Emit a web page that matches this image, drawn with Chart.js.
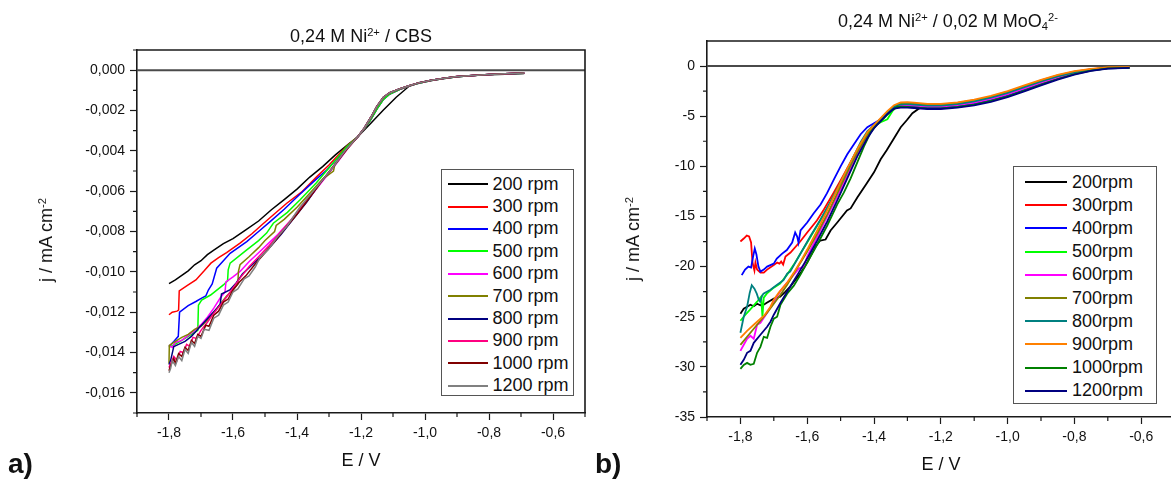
<!DOCTYPE html>
<html>
<head>
<meta charset="utf-8">
<script src="https://cdn.jsdelivr.net/npm/chart.js@4.4.1/dist/chart.umd.min.js"></script>
<style>
  html, body { margin: 0; padding: 0; background: #fff; overflow: hidden; width: 1171px; height: 479px; }
  body { position: relative; font-family: 'Liberation Sans', Arial, sans-serif; color: #111; }
  .panel { position: absolute; top: 0; height: 479px; }
  .txt { position: absolute; white-space: nowrap; font-size: 18px; line-height: 20px; }
  .txt sup, .txt sub { font-size: 0.62em; line-height: 0; position: relative; vertical-align: baseline; }
  .txt sup { top: -0.55em; }
  .txt sub { top: 0.3em; }
  .ctr { transform: translateX(-50%); }
  .rot { transform: translate(-50%, -50%) rotate(-90deg); }
  .tag { position: absolute; font-weight: bold; font-size: 28px; line-height: 30px; }
  .legend { position: absolute; box-sizing: border-box; border: 1.3px solid #555; background: #fff; }
  .legend .item { display: flex; align-items: center; font-size: 18px; }
  .legend .sw { display: inline-block; height: 2px; }
</style>
</head>
<body>

<div class="panel" id="panelA" style="left:0; width:595px;"><canvas id="chartA"></canvas></div>
<div class="panel" id="panelB" style="left:600px; width:585px;"><canvas id="chartB"></canvas></div>

<div class="txt ctr" style="left:361px; top:26px;">0,24 M Ni<sup>2+</sup> / CBS</div>
<div class="txt ctr" style="left:948px; top:11px;">0,24 M Ni<sup>2+</sup> / 0,02 M MoO<sub>4</sub><sup>2-</sup></div>
<div class="txt ctr" style="left:361px; top:450px;">E / V</div>
<div class="txt ctr" style="left:941px; top:454px;">E / V</div>
<div class="txt rot" style="left:46px; top:240px;">j / mA cm<sup>-2</sup></div>
<div class="txt rot" style="left:633px; top:239px;">j / mA cm<sup>-2</sup></div>
<div class="tag" style="left:8px; top:449px;">a)</div>
<div class="tag" style="left:595px; top:449px;">b)</div>

<div class="legend" id="legendA" style="left:441px; top:169px; width:133px; height:227px; padding-top:3px;"></div>
<div class="legend" id="legendB" style="left:1013px; top:166px; width:144px; height:238px; padding-top:3.5px;"></div>

<script>
// ---------- ticks ----------
const xMajor = [-1.8, -1.6, -1.4, -1.2, -1.0, -0.8, -0.6];
const xMinor = [-1.9, -1.7, -1.5, -1.3, -1.1, -0.9, -0.7, -0.5];
const aYMajor = [0, -0.002, -0.004, -0.006, -0.008, -0.010, -0.012, -0.014, -0.016];
const aYMinor = [0.001, -0.001, -0.003, -0.005, -0.007, -0.009, -0.011, -0.013, -0.015, -0.017];
const bYMajor = [0, -5, -10, -15, -20, -25, -30, -35];
const bYMinor = [-2.5, -7.5, -12.5, -17.5, -22.5, -27.5, -32.5];

// ---------- panel a: 0,24 M Ni2+ / CBS  [E / V, j] ----------
const aLabels = ['200 rpm', '300 rpm', '400 rpm', '500 rpm', '600 rpm', '700 rpm', '800 rpm', '900 rpm', '1000 rpm', '1200 rpm'];
const aColors = ['#000000', '#ff0000', '#0000ff', '#00ff00', '#ff00ff', '#808000', '#000080', '#ff0080', '#800000', '#808080'];

const a200 = [[-1.80,-0.01058],[-1.78,-0.01040],[-1.76,-0.01018],[-1.74,-0.00995],[-1.72,-0.00965],[-1.70,-0.00945],[-1.68,-0.00915],[-1.66,-0.00892],[-1.63,-0.00860],[-1.60,-0.00835],[-1.56,-0.00792],[-1.52,-0.00748],[-1.48,-0.00692],[-1.44,-0.00642],[-1.40,-0.00590],[-1.36,-0.00530],[-1.32,-0.00478],[-1.28,-0.00420],[-1.24,-0.00368],[-1.21,-0.00330],[-1.17,-0.00264],[-1.13,-0.00198],[-1.09,-0.00134],[-1.05,-0.00080],[-1.02,-0.00062],[-0.98,-0.00050],[-0.94,-0.00040],[-0.90,-0.00033],[-0.85,-0.00027],[-0.80,-0.00023],[-0.75,-0.00020],[-0.69,-0.00017]];
const aTailFast = [[-1.19,-0.00292],[-1.17,-0.00246],[-1.15,-0.00192],[-1.13,-0.00145],[-1.11,-0.00118],[-1.08,-0.00096],[-1.05,-0.00079],[-1.02,-0.00065],[-0.98,-0.00051],[-0.94,-0.00041],[-0.90,-0.00033],[-0.85,-0.00026],[-0.80,-0.00021],[-0.75,-0.00018],[-0.69,-0.00015]];
const aTailSlow = [[-1.19,-0.00288],[-1.17,-0.00236],[-1.15,-0.00178],[-1.13,-0.00134],[-1.11,-0.00112],[-1.08,-0.00093],[-1.05,-0.00077],[-1.02,-0.00063],[-0.98,-0.00050],[-0.94,-0.00040],[-0.90,-0.00032],[-0.85,-0.00026],[-0.80,-0.00021],[-0.75,-0.00018],[-0.69,-0.00014]];
const a300 = [[-1.80,-0.01213],[-1.79,-0.01200],[-1.775,-0.01195],[-1.770,-0.01190],[-1.768,-0.01094],[-1.74,-0.01065],[-1.716,-0.01040],[-1.69,-0.00995],[-1.669,-0.00957],[-1.645,-0.00930],[-1.62,-0.00905],[-1.578,-0.00858],[-1.54,-0.00810],[-1.505,-0.00760],[-1.47,-0.00712],[-1.432,-0.00660],[-1.386,-0.00605],[-1.338,-0.00528],[-1.30,-0.00470],[-1.276,-0.00429],[-1.24,-0.00370],[-1.21,-0.00330]];
const a400 = [[-1.80,-0.01370],[-1.785,-0.01345],[-1.771,-0.01320],[-1.767,-0.01200],[-1.74,-0.01168],[-1.716,-0.01147],[-1.698,-0.01130],[-1.685,-0.01120],[-1.677,-0.01090],[-1.665,-0.01060],[-1.651,-0.00982],[-1.63,-0.00945],[-1.609,-0.00908],[-1.557,-0.00850],[-1.52,-0.00800],[-1.484,-0.00751],[-1.44,-0.00690],[-1.391,-0.00615],[-1.35,-0.00555],[-1.307,-0.00495],[-1.255,-0.00404],[-1.21,-0.00330]];
const a500 = [[-1.80,-0.01375],[-1.77,-0.01350],[-1.74,-0.01320],[-1.71,-0.01290],[-1.708,-0.01165],[-1.698,-0.01140],[-1.67,-0.01115],[-1.63,-0.01065],[-1.617,-0.01045],[-1.615,-0.00990],[-1.609,-0.00957],[-1.557,-0.00891],[-1.52,-0.00845],[-1.495,-0.00808],[-1.474,-0.00759],[-1.43,-0.00705],[-1.391,-0.00644],[-1.34,-0.00560],[-1.297,-0.00479],[-1.245,-0.00380],[-1.21,-0.00330]];
const a600 = [[-1.80,-0.01365],[-1.79,-0.01375],[-1.78,-0.01350],[-1.76,-0.01340],[-1.74,-0.01315],[-1.72,-0.01290],[-1.70,-0.01262],[-1.68,-0.01225],[-1.66,-0.01180],[-1.64,-0.01130],[-1.625,-0.01100],[-1.622,-0.01050],[-1.60,-0.01025],[-1.578,-0.00998],[-1.55,-0.00950],[-1.52,-0.00905],[-1.49,-0.00860],[-1.46,-0.00815],[-1.42,-0.00745],[-1.39,-0.00690],[-1.35,-0.00610],[-1.31,-0.00530],[-1.27,-0.00450],[-1.24,-0.00385],[-1.21,-0.00330]];
const a700 = [[-1.80,-0.01455],[-1.799,-0.01365],[-1.78,-0.01345],[-1.76,-0.01325],[-1.74,-0.01310],[-1.72,-0.01285],[-1.70,-0.01270],[-1.68,-0.01240],[-1.66,-0.01200],[-1.64,-0.01160],[-1.62,-0.01120],[-1.60,-0.01090],[-1.585,-0.01060],[-1.583,-0.00998],[-1.578,-0.00965],[-1.55,-0.00925],[-1.52,-0.00880],[-1.50,-0.00845],[-1.47,-0.00800],[-1.465,-0.00770],[-1.44,-0.00740],[-1.40,-0.00680],[-1.36,-0.00610],[-1.32,-0.00540],[-1.286,-0.00500],[-1.282,-0.00470],[-1.25,-0.00400],[-1.21,-0.00330]];
const a800 = [[-1.80,-0.01460],[-1.795,-0.01440],[-1.785,-0.01370],[-1.77,-0.01360],[-1.75,-0.01345],[-1.73,-0.01320],[-1.71,-0.01285],[-1.69,-0.01250],[-1.67,-0.01215],[-1.65,-0.01180],[-1.64,-0.01160],[-1.636,-0.01110],[-1.61,-0.01090],[-1.59,-0.01055],[-1.57,-0.01010],[-1.54,-0.00965],[-1.51,-0.00920],[-1.48,-0.00870],[-1.45,-0.00815],[-1.41,-0.00735],[-1.37,-0.00655],[-1.33,-0.00565],[-1.29,-0.00485],[-1.25,-0.00400],[-1.21,-0.00330]];
const a900 = [[-1.80,-0.01475],[-1.795,-0.01455],[-1.785,-0.01420],[-1.775,-0.01440],[-1.765,-0.01395],[-1.755,-0.01400],[-1.745,-0.01360],[-1.735,-0.01370],[-1.725,-0.01325],[-1.715,-0.01330],[-1.70,-0.01290],[-1.68,-0.01250],[-1.66,-0.01205],[-1.64,-0.01165],[-1.62,-0.01125],[-1.60,-0.01080],[-1.58,-0.01035],[-1.55,-0.00975],[-1.52,-0.00925],[-1.49,-0.00875],[-1.46,-0.00820],[-1.42,-0.00745],[-1.38,-0.00665],[-1.34,-0.00585],[-1.30,-0.00505],[-1.26,-0.00420],[-1.21,-0.00330]];
const a1000 = [[-1.80,-0.01490],[-1.795,-0.01465],[-1.785,-0.01430],[-1.78,-0.01455],[-1.77,-0.01405],[-1.76,-0.01420],[-1.75,-0.01375],[-1.74,-0.01390],[-1.73,-0.01340],[-1.72,-0.01355],[-1.71,-0.01310],[-1.70,-0.01320],[-1.685,-0.01265],[-1.675,-0.01270],[-1.66,-0.01215],[-1.645,-0.01195],[-1.63,-0.01150],[-1.615,-0.01135],[-1.60,-0.01090],[-1.58,-0.01050],[-1.56,-0.01020],[-1.53,-0.00960],[-1.50,-0.00905],[-1.47,-0.00850],[-1.44,-0.00790],[-1.40,-0.00715],[-1.36,-0.00630],[-1.32,-0.00545],[-1.28,-0.00465],[-1.24,-0.00385],[-1.21,-0.00330]];
const a1200 = [[-1.80,-0.01500],[-1.795,-0.01480],[-1.79,-0.01440],[-1.78,-0.01465],[-1.77,-0.01420],[-1.76,-0.01440],[-1.75,-0.01385],[-1.74,-0.01405],[-1.73,-0.01350],[-1.72,-0.01370],[-1.71,-0.01320],[-1.70,-0.01330],[-1.69,-0.01285],[-1.675,-0.01290],[-1.66,-0.01230],[-1.645,-0.01215],[-1.63,-0.01165],[-1.615,-0.01150],[-1.60,-0.01100],[-1.585,-0.01085],[-1.565,-0.01035],[-1.55,-0.01020],[-1.53,-0.00975],[-1.516,-0.00930],[-1.49,-0.00890],[-1.463,-0.00830],[-1.43,-0.00770],[-1.391,-0.00680],[-1.35,-0.00600],[-1.328,-0.00560],[-1.287,-0.00480],[-1.25,-0.00400],[-1.21,-0.00330]];

// ---------- panel b: 0,24 M Ni2+ / 0,02 M MoO4 2-  [E / V, j / mA cm-2] ----------
const bLabels = ['200rpm', '300rpm', '400rpm', '500rpm', '600rpm', '700rpm', '800rpm', '900rpm', '1000rpm', '1200rpm'];
const bColors = ['#000000', '#ff0000', '#0000ff', '#00ff00', '#ff00ff', '#808000', '#008080', '#ff8000', '#008000', '#000080'];

const b200 = [[-1.80,-24.7],[-1.79,-24.2],[-1.78,-24.0],[-1.77,-23.8],[-1.76,-23.95],[-1.75,-23.7],[-1.74,-23.85],[-1.73,-23.8],[-1.721,-23.6],[-1.70,-23.2],[-1.681,-23.0],[-1.665,-22.5],[-1.651,-22.0],[-1.635,-21.3],[-1.621,-20.7],[-1.60,-19.6],[-1.591,-19.0],[-1.575,-18.0],[-1.561,-17.4],[-1.545,-17.3],[-1.53,-16.4],[-1.51,-15.6],[-1.481,-14.4],[-1.47,-14.2],[-1.45,-13.1],[-1.422,-11.7],[-1.40,-10.6],[-1.38,-9.3],[-1.362,-8.4],[-1.34,-7.2],[-1.32,-6.1],[-1.302,-5.4],[-1.285,-4.7],[-1.262,-4.15],[-1.24,-4.22],[-1.20,-4.20],[-1.15,-4.00],[-1.10,-3.66],[-1.05,-3.26],[-1.00,-2.76],[-0.95,-2.20],[-0.90,-1.62],[-0.85,-1.10],[-0.80,-0.67],[-0.75,-0.38],[-0.70,-0.20],[-0.635,-0.16]];
const b300 = [[-1.80,-17.5],[-1.79,-17.2],[-1.781,-16.9],[-1.774,-17.0],[-1.768,-17.6],[-1.764,-19.5],[-1.761,-20.0],[-1.758,-20.4],[-1.755,-19.6],[-1.75,-20.3],[-1.74,-20.6],[-1.73,-20.6],[-1.72,-20.3],[-1.70,-19.85],[-1.69,-19.6],[-1.683,-19.7],[-1.678,-19.5],[-1.672,-19.8],[-1.665,-19.0],[-1.65,-18.6],[-1.621,-17.5],[-1.60,-16.6],[-1.571,-15.4],[-1.55,-14.3],[-1.522,-12.7],[-1.50,-11.4],[-1.472,-9.7],[-1.45,-8.4],[-1.422,-7.07],[-1.40,-6.0],[-1.382,-5.4],[-1.36,-4.7],[-1.332,-3.9],[-1.31,-3.72],[-1.28,-3.75],[-1.24,-3.85],[-1.20,-3.84],[-1.15,-3.68],[-1.10,-3.41],[-1.05,-3.04],[-1.00,-2.56],[-0.95,-1.99],[-0.90,-1.43],[-0.85,-0.94],[-0.80,-0.55],[-0.75,-0.30],[-0.70,-0.16],[-0.635,-0.13]];
const b400 = [[-1.796,-20.85],[-1.786,-20.3],[-1.776,-20.0],[-1.768,-20.1],[-1.762,-19.0],[-1.757,-18.2],[-1.752,-18.8],[-1.746,-20.0],[-1.74,-20.5],[-1.73,-20.3],[-1.72,-20.0],[-1.70,-19.7],[-1.691,-19.2],[-1.675,-18.7],[-1.661,-18.35],[-1.645,-17.6],[-1.636,-16.6],[-1.630,-17.0],[-1.626,-17.6],[-1.62,-16.4],[-1.60,-15.6],[-1.581,-14.7],[-1.56,-13.8],[-1.541,-12.7],[-1.52,-11.3],[-1.50,-10.0],[-1.48,-8.8],[-1.46,-7.8],[-1.44,-6.8],[-1.42,-6.1],[-1.40,-5.7],[-1.38,-5.3],[-1.36,-4.7],[-1.34,-4.2],[-1.32,-4.0],[-1.28,-4.05],[-1.24,-4.15],[-1.20,-4.14],[-1.15,-4.00],[-1.10,-3.76],[-1.05,-3.40],[-1.00,-2.94],[-0.95,-2.37],[-0.90,-1.79],[-0.85,-1.23],[-0.80,-0.76],[-0.75,-0.43],[-0.70,-0.22],[-0.635,-0.17]];
const b500 = [[-1.80,-25.4],[-1.785,-24.8],[-1.771,-24.3],[-1.75,-23.5],[-1.738,-23.0],[-1.734,-25.0],[-1.73,-23.1],[-1.721,-22.7],[-1.70,-22.1],[-1.681,-21.7],[-1.66,-20.8],[-1.64,-19.8],[-1.62,-18.7],[-1.60,-17.6],[-1.57,-15.9],[-1.54,-14.2],[-1.51,-12.3],[-1.48,-10.4],[-1.45,-8.4],[-1.42,-6.8],[-1.40,-6.0],[-1.38,-5.6],[-1.36,-5.3],[-1.345,-4.5],[-1.33,-4.0],[-1.30,-3.88],[-1.28,-3.90],[-1.24,-4.00],[-1.20,-3.99],[-1.15,-3.85],[-1.10,-3.58],[-1.05,-3.21],[-1.00,-2.74],[-0.95,-2.17],[-0.90,-1.60],[-0.85,-1.08],[-0.80,-0.65],[-0.75,-0.37],[-0.70,-0.19],[-0.635,-0.16]];
const b600 = [[-1.80,-28.4],[-1.79,-27.8],[-1.78,-27.2],[-1.77,-26.9],[-1.76,-27.2],[-1.755,-26.5],[-1.75,-25.8],[-1.74,-25.6],[-1.72,-24.6],[-1.70,-23.5],[-1.68,-22.4],[-1.66,-21.6],[-1.64,-20.8],[-1.625,-20.2],[-1.61,-20.0],[-1.60,-19.0],[-1.57,-17.0],[-1.54,-15.0],[-1.51,-13.0],[-1.48,-10.9],[-1.45,-8.8],[-1.42,-7.0],[-1.40,-6.1],[-1.38,-5.4],[-1.36,-4.7],[-1.34,-4.1],[-1.32,-3.9],[-1.30,-3.92],[-1.28,-3.95],[-1.24,-4.05],[-1.20,-4.04],[-1.15,-3.90],[-1.10,-3.64],[-1.05,-3.27],[-1.00,-2.80],[-0.95,-2.23],[-0.90,-1.66],[-0.85,-1.13],[-0.80,-0.69],[-0.75,-0.39],[-0.70,-0.20],[-0.635,-0.16]];
const b700 = [[-1.80,-27.8],[-1.78,-27.0],[-1.76,-26.2],[-1.74,-25.4],[-1.72,-24.6],[-1.70,-23.7],[-1.68,-22.8],[-1.66,-21.8],[-1.64,-20.7],[-1.62,-19.6],[-1.60,-18.5],[-1.57,-16.7],[-1.54,-14.8],[-1.51,-12.7],[-1.48,-10.6],[-1.45,-8.6],[-1.42,-6.9],[-1.40,-6.0],[-1.38,-5.3],[-1.36,-4.6],[-1.34,-4.0],[-1.32,-3.78],[-1.30,-3.75],[-1.28,-3.78],[-1.24,-3.89],[-1.20,-3.88],[-1.15,-3.73],[-1.10,-3.46],[-1.05,-3.09],[-1.00,-2.61],[-0.95,-2.04],[-0.90,-1.48],[-0.85,-0.98],[-0.80,-0.58],[-0.75,-0.32],[-0.70,-0.17],[-0.635,-0.14]];
const b800 = [[-1.80,-26.6],[-1.79,-25.0],[-1.78,-24.0],[-1.772,-22.6],[-1.766,-21.85],[-1.758,-22.2],[-1.751,-22.7],[-1.745,-23.3],[-1.741,-23.5],[-1.736,-23.0],[-1.731,-22.7],[-1.71,-22.3],[-1.69,-21.8],[-1.671,-21.35],[-1.66,-20.7],[-1.651,-20.5],[-1.62,-18.7],[-1.591,-17.0],[-1.56,-15.3],[-1.53,-13.5],[-1.50,-11.6],[-1.47,-9.6],[-1.44,-7.6],[-1.42,-6.5],[-1.40,-5.9],[-1.38,-5.3],[-1.36,-4.6],[-1.33,-3.88],[-1.30,-3.80],[-1.28,-3.84],[-1.24,-3.95],[-1.20,-3.94],[-1.15,-3.79],[-1.10,-3.52],[-1.05,-3.15],[-1.00,-2.67],[-0.95,-2.10],[-0.90,-1.54],[-0.85,-1.03],[-0.80,-0.62],[-0.75,-0.34],[-0.70,-0.18],[-0.635,-0.15]];
const b900 = [[-1.80,-27.1],[-1.78,-26.4],[-1.76,-25.8],[-1.74,-25.2],[-1.729,-24.9],[-1.71,-24.0],[-1.70,-23.3],[-1.685,-22.6],[-1.66,-21.6],[-1.64,-20.6],[-1.62,-19.5],[-1.60,-18.3],[-1.57,-16.4],[-1.54,-14.4],[-1.51,-12.3],[-1.48,-10.2],[-1.45,-8.3],[-1.42,-6.6],[-1.40,-5.9],[-1.38,-5.2],[-1.36,-4.5],[-1.34,-3.9],[-1.32,-3.62],[-1.30,-3.60],[-1.28,-3.65],[-1.24,-3.78],[-1.20,-3.78],[-1.15,-3.62],[-1.10,-3.35],[-1.05,-2.98],[-1.00,-2.50],[-0.95,-1.93],[-0.90,-1.37],[-0.85,-0.89],[-0.80,-0.51],[-0.75,-0.27],[-0.70,-0.14],[-0.635,-0.12]];
const b1000 = [[-1.80,-30.2],[-1.79,-29.8],[-1.78,-29.6],[-1.77,-29.8],[-1.76,-29.7],[-1.75,-28.6],[-1.74,-28.0],[-1.73,-27.0],[-1.72,-27.1],[-1.71,-26.0],[-1.70,-25.2],[-1.69,-25.0],[-1.68,-23.8],[-1.66,-22.7],[-1.64,-21.9],[-1.62,-20.8],[-1.60,-19.6],[-1.57,-17.8],[-1.54,-15.9],[-1.51,-13.8],[-1.49,-12.6],[-1.47,-11.2],[-1.45,-9.6],[-1.43,-8.0],[-1.41,-6.6],[-1.39,-5.8],[-1.37,-5.2],[-1.35,-4.5],[-1.33,-4.05],[-1.30,-4.08],[-1.28,-4.12],[-1.24,-4.22],[-1.20,-4.21],[-1.15,-4.08],[-1.10,-3.84],[-1.05,-3.48],[-1.00,-3.02],[-0.95,-2.45],[-0.90,-1.86],[-0.85,-1.29],[-0.80,-0.80],[-0.75,-0.46],[-0.70,-0.24],[-0.635,-0.18]];
const b1200 = [[-1.80,-29.8],[-1.79,-29.3],[-1.78,-28.6],[-1.77,-28.4],[-1.76,-27.6],[-1.74,-26.8],[-1.72,-26.0],[-1.71,-25.5],[-1.70,-24.8],[-1.68,-23.6],[-1.66,-22.5],[-1.64,-21.4],[-1.62,-20.3],[-1.60,-19.2],[-1.57,-17.4],[-1.54,-15.5],[-1.51,-13.4],[-1.48,-11.2],[-1.45,-9.0],[-1.42,-7.2],[-1.40,-6.2],[-1.38,-5.5],[-1.36,-4.8],[-1.34,-4.25],[-1.32,-4.15],[-1.30,-4.15],[-1.28,-4.18],[-1.24,-4.28],[-1.20,-4.28],[-1.15,-4.15],[-1.10,-3.92],[-1.05,-3.57],[-1.00,-3.10],[-0.95,-2.53],[-0.90,-1.93],[-0.85,-1.35],[-0.80,-0.85],[-0.75,-0.48],[-0.70,-0.25],[-0.635,-0.19]];

const aSeries = [a200, a300.concat(aTailFast), a400.concat(aTailFast), a500.concat(aTailFast),
                 a600.concat(aTailSlow), a700.concat(aTailSlow), a800.concat(aTailSlow),
                 a900.concat(aTailSlow), a1000.concat(aTailSlow), a1200.concat(aTailSlow)];
const bSeries = [b200, b300, b400, b500, b600, b700, b800, b900, b1000, b1200];

const FONT = "'Liberation Sans', Arial, sans-serif";
const fmt = (v, d) => (Math.abs(v) < 1e-12 ? 0 : v).toFixed(d).replace('.', ',');

// frame on top/right, zero line and minor ticks (Chart.js draws the majors)
const framePlugin = {
    id: 'frame',
    beforeDatasetsDraw(chart, args, opts) {
        const { ctx, chartArea: a, scales: { y } } = chart;
        const y0 = y.getPixelForValue(0);
        ctx.save();
        ctx.strokeStyle = '#4a4a4a';
        ctx.lineWidth = 2;
        ctx.beginPath();
        ctx.moveTo(a.left, y0);
        ctx.lineTo(a.right, y0);
        ctx.stroke();
        ctx.restore();
    },
    afterDraw(chart, args, opts) {
        const { ctx, chartArea: a, scales: { x, y } } = chart;
        ctx.save();
        ctx.strokeStyle = '#1a1a1a';
        ctx.lineWidth = 1.6;
        ctx.beginPath();
        ctx.moveTo(a.left, a.top);
        ctx.lineTo(a.right, a.top);
        ctx.lineTo(a.right, a.bottom);
        ctx.stroke();
        ctx.lineWidth = 1.2;
        ctx.beginPath();
        opts.xMinor.forEach(v => {
            const px = x.getPixelForValue(v);
            ctx.moveTo(px, a.bottom);
            ctx.lineTo(px, a.bottom + 4);
        });
        opts.yMinor.forEach(v => {
            const py = y.getPixelForValue(v);
            ctx.moveTo(a.left, py);
            ctx.lineTo(a.left - 4, py);
        });
        ctx.stroke();
        ctx.restore();
    }
};

function makeChart(canvasId, series, labels, colors, cfg) {
    const datasets = series.map((pts, i) => ({
        label: labels[i],
        data: pts.map(p => ({ x: p[0], y: p[1] })),
        borderColor: colors[i],
        backgroundColor: colors[i],
        borderWidth: cfg.lineWidth,
        pointRadius: 0,
        tension: 0,
        fill: false,
        order: series.length - 1 - i
    }));
    const axisCommon = {
        type: 'linear',
        grid: { drawOnChartArea: false, drawTicks: true, tickLength: 7, tickColor: '#1a1a1a', tickWidth: 1.2 },
        border: { display: true, color: '#1a1a1a', width: 1.6 }
    };
    return new Chart(document.getElementById(canvasId), {
        type: 'line',
        data: { datasets },
        options: {
            responsive: true,
            maintainAspectRatio: false,
            animation: false,
            layout: { padding: cfg.padding },
            plugins: {
                legend: { display: false },
                tooltip: { enabled: false },
                frame: { xMinor: xMinor, yMinor: cfg.yMinor }
            },
            scales: {
                x: {
                    ...axisCommon,
                    min: -1.9, max: -0.5,
                    afterBuildTicks: s => { s.ticks = xMajor.map(v => ({ value: v })); },
                    afterFit: s => { s.height = cfg.xHeight; },
                    ticks: { font: { family: FONT, size: 14 }, color: '#111', padding: 5, maxRotation: 0, autoSkip: false,
                             callback: v => fmt(v, 1) }
                },
                y: {
                    ...axisCommon,
                    min: cfg.yMin, max: cfg.yMax,
                    afterBuildTicks: s => { s.ticks = cfg.yMajor.map(v => ({ value: v })); },
                    afterFit: s => { s.width = cfg.yWidth; },
                    ticks: { font: { family: FONT, size: 14 }, color: '#111', padding: 5, autoSkip: false,
                             callback: v => fmt(v, cfg.yDec) }
                }
            }
        },
        plugins: [framePlugin]
    });
}

function buildLegend(chart, elId, rowH, swLeft, swW) {
    const el = document.getElementById(elId);
    el.innerHTML = chart.data.datasets.map(ds =>
        `<div class="item" style="height:${rowH}px">` +
        `<span class="sw" style="margin-left:${swLeft}px;width:${swW}px;background:${ds.borderColor}"></span>` +
        `<span style="margin-left:5px">${ds.label}</span></div>`).join('');
}

const chartA = makeChart('chartA', aSeries, aLabels, aColors, {
    lineWidth: 1.5,
    padding: { top: 50, right: 10, bottom: 0, left: 0 },
    xHeight: 66, yWidth: 137,
    yMin: -0.017, yMax: 0.001, yMajor: aYMajor, yMinor: aYMinor, yDec: 3
});
const chartB = makeChart('chartB', bSeries, bLabels, bColors, {
    lineWidth: 1.8,
    padding: { top: 41, right: 10.4, bottom: 0, left: 0 },
    xHeight: 62, yWidth: 107,
    yMin: -35, yMax: 2.5, yMajor: bYMajor, yMinor: bYMinor, yDec: 0
});

buildLegend(chartA, 'legendA', 22.4, 5.5, 40);
buildLegend(chartB, 'legendB', 23.2, 11, 42);
</script>
</body>
</html>
